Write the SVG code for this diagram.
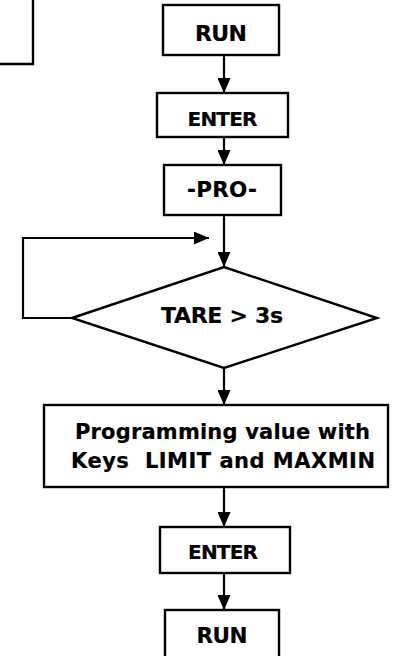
<svg xmlns="http://www.w3.org/2000/svg" width="400" height="656" viewBox="0 0 400 656">
<defs>
<style>
.box{fill:#fff;stroke:#000;stroke-width:2.4}
.con{fill:none;stroke:#000;stroke-width:2.2}
.t{font-family:"DejaVu Sans","Liberation Sans",sans-serif;font-weight:bold;fill:#000;stroke:#000;stroke-width:0.2;text-anchor:middle}
</style>
<marker id="ah" markerUnits="userSpaceOnUse" markerWidth="15" markerHeight="13" refX="15" refY="6.5" orient="auto">
<path d="M0,0 L15,6.5 L0,13 Z" fill="#000"/>
</marker>
</defs>
<rect width="400" height="656" fill="#fff"/>
<g id="partial">
<path class="box" d="M33,0 V64 H0" fill="none"/>
</g>
<g id="connectors">
<line class="con" x1="224" y1="55" x2="224" y2="93" marker-end="url(#ah)"/>
<line class="con" x1="224" y1="137" x2="224" y2="165" marker-end="url(#ah)"/>
<line class="con" x1="224" y1="215" x2="224" y2="267" marker-end="url(#ah)"/>
<polyline class="con" points="72,318 23,318 23,238 209,238" marker-end="url(#ah)"/>
<line class="con" x1="224" y1="368" x2="224" y2="405" marker-end="url(#ah)"/>
<line class="con" x1="224" y1="487" x2="224" y2="527" marker-end="url(#ah)"/>
<line class="con" x1="224" y1="573" x2="224" y2="610" marker-end="url(#ah)"/>
</g>
<g id="run1">
<rect class="box" x="163" y="5" width="116" height="50"/>
<text class="t" x="221" y="41" font-size="22" textLength="52" lengthAdjust="spacing">RUN</text>
</g>
<g id="enter1">
<rect class="box" x="157" y="93" width="131" height="44"/>
<text class="t" x="222.5" y="126" font-size="20" textLength="70" lengthAdjust="spacing">ENTER</text>
</g>
<g id="pro">
<rect class="box" x="164" y="165" width="117" height="50"/>
<text class="t" x="222" y="197" font-size="21.5" textLength="70" lengthAdjust="spacing">-PRO-</text>
</g>
<g id="tare">
<polygon class="box" points="72,318 224,267 377,318 224,368"/>
<text class="t" x="222" y="323" font-size="22" textLength="122" lengthAdjust="spacing">TARE &gt; 3s</text>
</g>
<g id="program">
<rect class="box" x="44" y="405" width="344" height="82"/>
<text class="t" x="222.5" y="439" font-size="21" textLength="295" lengthAdjust="spacing">Programming value with</text>
<text class="t" x="223" y="468" font-size="21" textLength="304" lengthAdjust="spacing" xml:space="preserve">Keys  LIMIT and MAXMIN</text>
</g>
<g id="enter2">
<rect class="box" x="160" y="527" width="130" height="46"/>
<text class="t" x="223" y="559" font-size="20" textLength="70" lengthAdjust="spacing">ENTER</text>
</g>
<g id="run2">
<rect class="box" x="165" y="610" width="114" height="50"/>
<text class="t" x="222" y="643" font-size="21.5" textLength="51" lengthAdjust="spacing">RUN</text>
</g>
</svg>
